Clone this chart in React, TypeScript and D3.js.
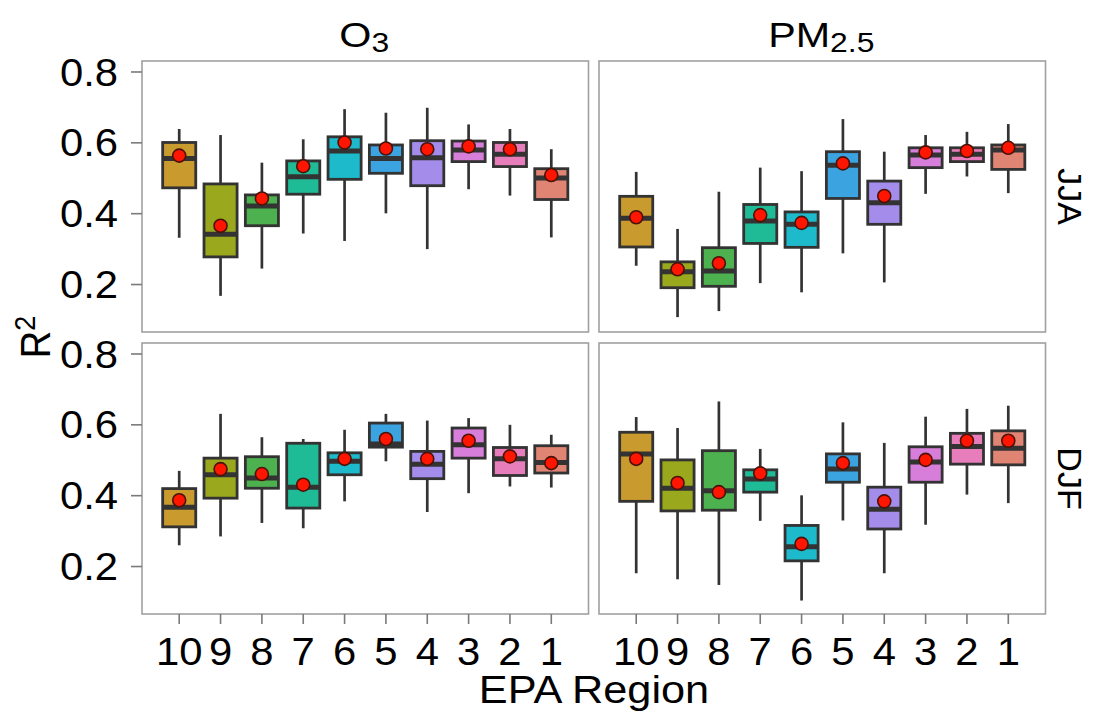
import React from "react";
import * as d3 from "d3";

// EPA regions in plotted order
const regions = ["10", "9", "8", "7", "6", "5", "4", "3", "2", "1"];
const regionColors = ["#C99A2E", "#9AA81E", "#4DB14F", "#1EBB96", "#1DBACB", "#3BA3E0", "#A48CEB", "#D67ED9", "#E77DBA", "#E08473"];
const yTicks = [0.2, 0.4, 0.6, 0.8];

// [whiskerLow, q1, median, q3, whiskerHigh, mean] per region
const o3JJA = [
  [0.332, 0.473, 0.556, 0.601, 0.639, 0.564],
  [0.168, 0.278, 0.342, 0.484, 0.622, 0.366],
  [0.245, 0.366, 0.422, 0.453, 0.544, 0.443],
  [0.344, 0.455, 0.504, 0.549, 0.610, 0.534],
  [0.323, 0.497, 0.577, 0.617, 0.695, 0.601],
  [0.401, 0.514, 0.556, 0.594, 0.685, 0.584],
  [0.300, 0.479, 0.558, 0.606, 0.699, 0.582],
  [0.469, 0.547, 0.580, 0.605, 0.652, 0.590],
  [0.451, 0.533, 0.568, 0.601, 0.639, 0.582],
  [0.333, 0.440, 0.501, 0.527, 0.582, 0.509],
];
const pmJJA = [
  [0.253, 0.306, 0.387, 0.449, 0.518, 0.390],
  [0.108, 0.191, 0.236, 0.264, 0.357, 0.243],
  [0.125, 0.195, 0.238, 0.304, 0.462, 0.260],
  [0.204, 0.316, 0.379, 0.426, 0.530, 0.396],
  [0.178, 0.305, 0.370, 0.405, 0.520, 0.374],
  [0.288, 0.443, 0.537, 0.575, 0.667, 0.542],
  [0.206, 0.370, 0.431, 0.492, 0.575, 0.450],
  [0.456, 0.530, 0.566, 0.586, 0.622, 0.573],
  [0.505, 0.547, 0.568, 0.586, 0.631, 0.577],
  [0.458, 0.525, 0.580, 0.594, 0.653, 0.586],
];
const o3DJF = [
  [0.260, 0.312, 0.367, 0.420, 0.470, 0.387],
  [0.285, 0.393, 0.459, 0.506, 0.631, 0.475],
  [0.323, 0.421, 0.450, 0.510, 0.565, 0.461],
  [0.308, 0.365, 0.424, 0.548, 0.560, 0.431],
  [0.384, 0.459, 0.497, 0.521, 0.586, 0.504],
  [0.497, 0.537, 0.546, 0.605, 0.631, 0.560],
  [0.354, 0.448, 0.489, 0.525, 0.612, 0.504],
  [0.407, 0.506, 0.544, 0.591, 0.619, 0.555],
  [0.426, 0.457, 0.504, 0.536, 0.600, 0.511],
  [0.423, 0.464, 0.494, 0.541, 0.572, 0.492],
];
const pmDJF = [
  [0.181, 0.384, 0.518, 0.579, 0.622, 0.504],
  [0.164, 0.357, 0.421, 0.501, 0.591, 0.436],
  [0.148, 0.359, 0.414, 0.527, 0.666, 0.410],
  [0.329, 0.410, 0.447, 0.473, 0.532, 0.463],
  [0.104, 0.216, 0.256, 0.316, 0.401, 0.264],
  [0.330, 0.438, 0.475, 0.518, 0.607, 0.492],
  [0.181, 0.306, 0.362, 0.424, 0.549, 0.384],
  [0.318, 0.438, 0.495, 0.538, 0.623, 0.501],
  [0.403, 0.489, 0.539, 0.576, 0.645, 0.555],
  [0.379, 0.487, 0.534, 0.583, 0.654, 0.555],
];

const FONT = "'Liberation Sans', Arial, Helvetica, sans-serif";
const SX = 1.1;
const FS = 38;

const colX = [[142, 588.5], [599, 1045.5]];
const rowY = [[61, 332], [343, 614]];
const yDomain = [0.066, 0.831];

function T({ x, y, anchor = "middle", rotate = 0, size = FS, sx = SX, children }: any) {
  return (
    <text
      transform={`translate(${x},${y}) scale(${sx},1) rotate(${rotate})`}
      textAnchor={anchor}
      fontFamily={FONT}
      fontSize={size}
      fill="#000"
    >
      {children}
    </text>
  );
}

function Panel({ data, col, row }: any) {
  const [x0, x1] = colX[col];
  const [y0, y1] = rowY[row];
  const x = d3.scaleBand().domain(regions).range([x0, x1]).paddingInner(0.2).paddingOuter(0.5);
  const y = d3.scaleLinear().domain(yDomain).range([y1, y0]);
  const bw = x.bandwidth();
  return (
    <g>
      <rect x={x0} y={y0} width={x1 - x0} height={y1 - y0} fill="#fff" stroke="#a0a0a0" strokeWidth={1.6} />
      {data.map((d: number[], i: number) => {
        const cx = (x(regions[i]) as number) + bw / 2;
        const [lo, q1, med, q3, hi, mean] = d;
        return (
          <g key={i}>
            <line x1={cx} x2={cx} y1={y(hi)} y2={y(q3)} stroke="#333" strokeWidth={2.7} />
            <line x1={cx} x2={cx} y1={y(q1)} y2={y(lo)} stroke="#333" strokeWidth={2.7} />
            <rect x={cx - bw / 2} y={y(q3)} width={bw} height={y(q1) - y(q3)} fill={regionColors[i]} stroke="#333" strokeWidth={2.8} />
            <line x1={cx - bw / 2} x2={cx + bw / 2} y1={y(med)} y2={y(med)} stroke="#333" strokeWidth={5} />
            <circle cx={cx} cy={y(mean)} r={6.5} fill="#FF1500" stroke="#4a1208" strokeWidth={1.6} />
          </g>
        );
      })}
      {col === 0 &&
        yTicks.map((t) => (
          <g key={t}>
            <line x1={x0 - 11} x2={x0} y1={y(t)} y2={y(t)} stroke="#7a7a7a" strokeWidth={1.6} />
            <T x={x0 - 24} y={y(t) + 13.6} anchor="end">{t.toFixed(1)}</T>
          </g>
        ))}
      {row === 1 &&
        regions.map((r) => {
          const cx = (x(r) as number) + bw / 2;
          return (
            <g key={r}>
              <line x1={cx} x2={cx} y1={y1} y2={y1 + 10} stroke="#7a7a7a" strokeWidth={1.6} />
              <T x={cx} y={665}>{r}</T>
            </g>
          );
        })}
    </g>
  );
}

export default function App() {
  const panels = [
    { data: o3JJA, col: 0, row: 0 },
    { data: pmJJA, col: 1, row: 0 },
    { data: o3DJF, col: 0, row: 1 },
    { data: pmDJF, col: 1, row: 1 },
  ];
  return (
    <svg width={1094} height={715} style={{ position: "absolute", left: 0, top: 0, background: "#fff" }}>
      <rect width={1094} height={715} fill="#fff" />
      {panels.map((p, i) => (
        <Panel key={i} {...p} />
      ))}
      {/* strip labels top */}
      <T x={(colX[0][0] + colX[0][1]) / 2 - 1} y={47} size={35} sx={1.18}>
        O<tspan fontSize={27} dy={5}>3</tspan>
      </T>
      <T x={(colX[1][0] + colX[1][1]) / 2 - 1} y={47} size={35} sx={1.18}>
        PM<tspan fontSize={27} dy={5}>2.5</tspan>
      </T>
      {/* strip labels right */}
      <T x={1058} y={(rowY[0][0] + rowY[0][1]) / 2} rotate={90} size={34} sx={0.95}>JJA</T>
      <T x={1058} y={(rowY[1][0] + rowY[1][1]) / 2} rotate={90} size={34} sx={0.95}>DJF</T>
      {/* axis titles */}
      <T x={594} y={703} sx={1.14}>EPA Region</T>
      <T x={50} y={337} rotate={-90}>
        R<tspan fontSize={27} dy={-14}>2</tspan>
      </T>
    </svg>
  );
}
